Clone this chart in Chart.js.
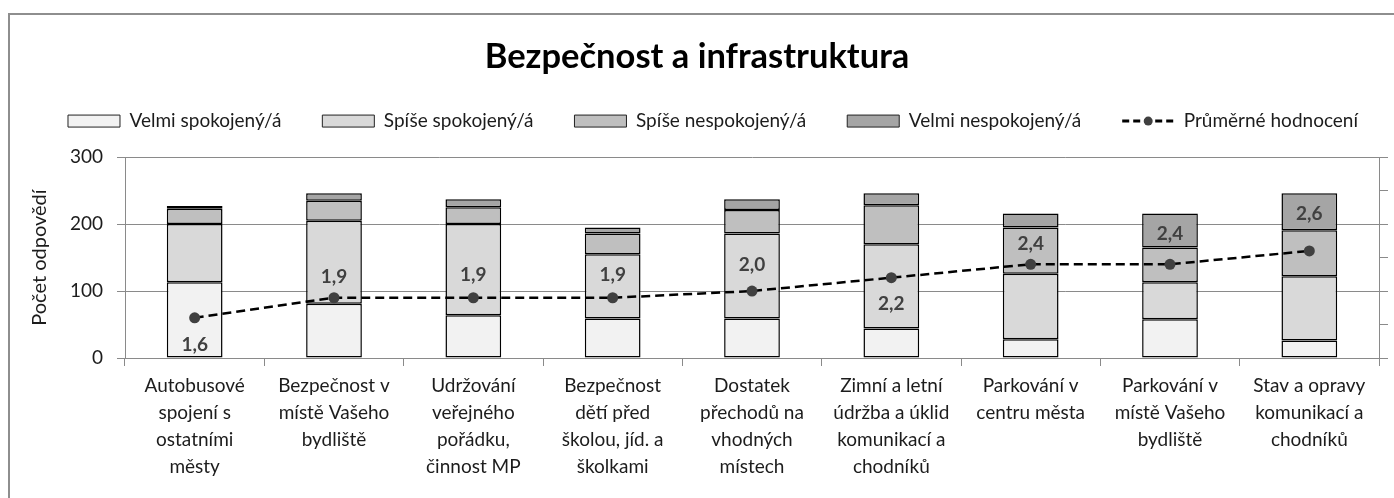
<!DOCTYPE html>
<html lang="cs">
<head>
<meta charset="utf-8">
<title>Bezpečnost a infrastruktura</title>
<script src="https://cdn.jsdelivr.net/npm/chart.js@4.4.1/dist/chart.umd.min.js"></script>
<style>
  html, body { margin: 0; padding: 0; background: #fff; overflow: hidden; }
  #wrap { position: relative; width: 1394px; height: 498px; }
  #frame {
    position: absolute; left: 8px; top: 13px; width: 1500px; height: 600px;
    border-left: 2px solid #8e8e8e; border-top: 2px solid #8e8e8e;
    pointer-events: none;
  }
</style>
</head>
<body>
<div id="wrap">
  <canvas id="chart" width="1394" height="498"></canvas>
  <div id="frame"></div>
</div>
<script>
// categories (multi-line labels as shown under the axis)
const categories = [
  ['Autobusové', 'spojení s', 'ostatními', 'městy'],
  ['Bezpečnost v', 'místě Vašeho', 'bydliště'],
  ['Udržování', 'veřejného', 'pořádku,', 'činnost MP'],
  ['Bezpečnost', 'dětí před', 'školou, jíd. a', 'školkami'],
  ['Dostatek', 'přechodů na', 'vhodných', 'místech'],
  ['Zimní a letní', 'údržba a úklid', 'komunikací a', 'chodníků'],
  ['Parkování v', 'centru města'],
  ['Parkování v', 'místě Vašeho', 'bydliště'],
  ['Stav a opravy', 'komunikací a', 'chodníků'],
];

// number of answers per category
const velmiSpokojeny    = [113, 81, 64, 59, 59, 44, 28, 58, 26];
const spiseSpokojeny    = [87, 124, 136, 96, 127, 126, 98, 55, 96];
const spiseNespokojeny  = [23, 30, 25, 31, 35, 58, 69, 52, 69];
const velmiNespokojeny  = [4, 11, 12, 9, 16, 18, 21, 51, 55];

// average rating (1 = best, 4 = worst)
const prumerneHodnoceni = [1.6, 1.9, 1.9, 1.9, 2.0, 2.2, 2.4, 2.4, 2.6];

const leftTicks = [0, 100, 200, 300];

const FONT = 'Lato, "Noto Sans", sans-serif';
const TEXT = '#1c1c1c';
const AXIS = '#8a8a8a';

function barSet(label, data, fill) {
  return {
    label, data,
    backgroundColor: fill,
    borderColor: '#000',
    borderWidth: 1.5,
    borderSkipped: false,
    barPercentage: 0.4,
    categoryPercentage: 1.0,
    stack: 'odp',
    yAxisID: 'y',
    order: 1,
  };
}

// value labels next to the average points
const avgLabelsPlugin = {
  id: 'avgLabels',
  afterDatasetsDraw(chart, args, opts) {
    const idx = chart.data.datasets.findIndex(d => d.type === 'line');
    const meta = chart.getDatasetMeta(idx);
    const ctx = chart.ctx;
    ctx.save();
    ctx.font = 'bold 19px ' + FONT;
    ctx.fillStyle = '#404040';
    ctx.textAlign = 'center';
    ctx.textBaseline = 'middle';
    meta.data.forEach((pt, i) => {
      const v = chart.data.datasets[idx].data[i];
      ctx.fillText(v.toFixed(1).replace('.', ','), pt.x, pt.y + opts.offsets[i]);
    });
    ctx.restore();
  }
};

// legend in the original sits a bit right of centre
const legendShiftPlugin = {
  id: 'legendShift',
  afterLayout(chart, args, opts) {
    chart.legend.left += opts.dx;
    chart.legend.right += opts.dx;
  }
};

// dashed line + dot sample for the line series in the legend
const legendLinePlugin = {
  id: 'legendLine',
  afterDraw(chart) {
    const lg = chart.legend;
    const idx = chart.data.datasets.findIndex(d => d.type === 'line');
    const item = lg.legendItems.findIndex(it => it.datasetIndex === idx);
    const hb = lg.legendHitBoxes[item];
    if (!hb) return;
    const ctx = chart.ctx;
    const y = hb.top + hb.height / 2;
    const x0 = hb.left, x1 = hb.left + lg.options.labels.boxWidth;
    ctx.save();
    ctx.strokeStyle = '#000';
    ctx.lineWidth = 3;
    ctx.setLineDash([7, 4]);
    ctx.beginPath();
    ctx.moveTo(x0, y);
    ctx.lineTo(x1, y);
    ctx.stroke();
    ctx.fillStyle = '#404040';
    ctx.beginPath();
    ctx.arc((x0 + x1) / 2, y, 4.5, 0, Math.PI * 2);
    ctx.fill();
    ctx.restore();
  }
};

new Chart(document.getElementById('chart'), {
  data: {
    labels: categories,
    datasets: [
      barSet('Velmi spokojený/á', velmiSpokojeny, '#f2f2f2'),
      barSet('Spíše spokojený/á', spiseSpokojeny, '#d9d9d9'),
      barSet('Spíše nespokojený/á', spiseNespokojeny, '#bfbfbf'),
      barSet('Velmi nespokojený/á', velmiNespokojeny, '#a5a5a5'),
      {
        type: 'line',
        label: 'Průměrné hodnocení',
        data: prumerneHodnoceni,
        yAxisID: 'y2',
        borderColor: '#000',
        borderWidth: 2.5,
        borderDash: [9, 5],
        pointRadius: 5.5,
        pointHoverRadius: 5.5,
        pointBackgroundColor: '#404040',
        pointBorderWidth: 0,
        tension: 0,
        fill: false,
        order: 0,
      },
    ].map(d => ({ type: 'bar', ...d })),
  },
  options: {
    responsive: false,
    devicePixelRatio: 1,
    animation: false,
    layout: { padding: 0 },
    plugins: {
      title: {
        display: true,
        text: 'Bezpečnost a infrastruktura',
        color: '#000',
        font: { family: FONT, size: 34.5, weight: 'bold', lineHeight: 0.77 },
        padding: { top: 44, bottom: 0 },
      },
      subtitle: {
        display: true, text: '', weight: 500,
        font: { size: 16.6, lineHeight: 1 }, padding: 0,
      },
      legend: {
        position: 'top',
        labels: {
          boxWidth: 52, boxHeight: 12, padding: 41,
          color: TEXT,
          font: { family: FONT, size: 19 },
          sort: (a, b) => a.datasetIndex - b.datasetIndex,
          generateLabels(chart) {
            const items = Chart.defaults.plugins.legend.labels.generateLabels(chart);
            items.forEach(it => {
              if (chart.data.datasets[it.datasetIndex].type === 'line') {
                it.fillStyle = 'rgba(0,0,0,0)';
                it.strokeStyle = 'rgba(0,0,0,0)';
                it.lineWidth = 0;
                it.lineDash = [];
              } else {
                it.lineWidth = 1;
                it.strokeStyle = '#222';
              }
            });
            return items;
          },
        },
      },
      legendShift: { dx: 16 },
      tooltip: { enabled: false },
      avgLabels: { offsets: [27, -21, -23, -23, -26, 26, -20, -30, -37] },
    },
    scales: {
      x: {
        stacked: true,
        offset: true,
        grid: { offset: true, drawOnChartArea: false, drawTicks: true, tickLength: 8, color: AXIS, lineWidth: 1 },
        border: { display: true, color: AXIS, width: 1 },
        ticks: {
          color: TEXT, padding: 6, maxRotation: 0, autoSkip: false,
          font: { family: FONT, size: 19, lineHeight: 1.42 },
        },
        afterFit(scale) { scale.height = 140; },
      },
      y: {
        stacked: true,
        position: 'left',
        min: 0, max: 300,
        afterBuildTicks(scale) { scale.ticks = leftTicks.map(v => ({ value: v })); },
        grid: { color: AXIS, lineWidth: 1, drawTicks: true, tickLength: 8 },
        border: { display: true, color: AXIS, width: 1 },
        ticks: { color: TEXT, padding: 14, font: { family: FONT, size: 19 } },
        title: {
          display: true, text: 'Počet odpovědí', color: TEXT,
          font: { family: FONT, size: 20, lineHeight: 1.2 },
          padding: { top: 28, bottom: 0 },
        },
        afterFit(scale) { scale.width = 125; },
      },
      y2: {
        position: 'right',
        min: 1, max: 4,
        ticks: { stepSize: 0.5, display: false },
        grid: { drawOnChartArea: false, drawTicks: true, tickLength: 9, color: AXIS, lineWidth: 1 },
        border: { display: true, color: AXIS, width: 1 },
        afterFit(scale) { scale.width = 15; },
      },
    },
  },
  plugins: [avgLabelsPlugin, legendShiftPlugin, legendLinePlugin],
});
</script>
</body>
</html>
